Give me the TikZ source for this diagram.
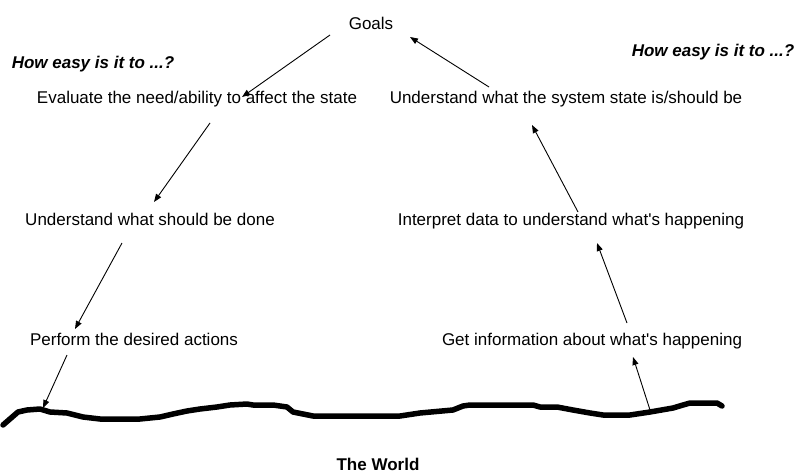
\documentclass[tikz,border=0pt]{standalone}
\usepackage{fontspec}
\setmainfont{Liberation Sans}[Ligatures=TeXOff]
\usetikzlibrary{arrows.meta}
\begin{document}
\begin{tikzpicture}[x=1pt,y=-1pt,
  lbl/.style={font=\fontsize{17}{20}\selectfont, inner sep=0pt, anchor=base},
  qlbl/.style={font=\fontsize{17}{20}\selectfont\bfseries\itshape, inner sep=0pt, anchor=base},
  wlbl/.style={font=\fontsize{17}{20}\selectfont\bfseries, inner sep=0pt, anchor=base},
  arr/.style={-{Triangle[length=8pt,width=6pt]}, line width=0.9pt},
  world/.style={line width=5.5pt, line join=round, line cap=round}]
\useasboundingbox (0,0) rectangle (799,473);
% texts
\node[lbl]  (goals) at (371,30)  {Goals};
\node[qlbl] (qL)    at (93,69)   {How easy is it to ...?};
\node[qlbl] (qR)    at (713,57)  {How easy is it to ...?};
\node[lbl]  (eval)  at (197,104) {Evaluate the need/ability to affect the state};
\node[lbl]  (und)   at (150,225) {Understand what should be done};
\node[lbl]  (perf)  at (134,345) {Perform the desired actions};
\node[lbl]  (sys)   at (566,104) {Understand what the system state is/should be};
\node[lbl]  (interp) at (571,225) {Interpret data to understand what's happening};
\node[lbl]  (info)  at (592,345) {Get information about what's happening};
\node[wlbl] (tw)    at (378,470) {The World};
% the world
\draw[world] (3,425) -- (18,412) -- (27,410) -- (40,409) -- (50,412) -- (67,413)
  -- (83,417) -- (100,419) -- (140,419) -- (160,417) -- (173,414) -- (187,411)
  -- (200,409) -- (217,407) -- (230,405) -- (247,404) -- (253,405) -- (273,405)
  -- (287,407) -- (293,412) -- (313,416) -- (400,416) -- (420,413) -- (453,410)
  -- (463,406) -- (470,405) -- (533,405) -- (540,407) -- (557,407) -- (573,410)
  -- (590,413) -- (603,415) -- (630,415) -- (650,412) -- (673,408) -- (683,405)
  -- (690,403) -- (717,403) -- (722,406);
% arrow end points
\coordinate (a1s) at (330,35);  \coordinate (a1e) at (242,97);
\coordinate (a2s) at (210,123); \coordinate (a2e) at (154,202);
\coordinate (a3s) at (122,243); \coordinate (a3e) at (75,329);
\coordinate (a4s) at (67,355);  \coordinate (a4e) at (43,408);
\coordinate (a5s) at (650,410); \coordinate (a5e) at (633,357);
\coordinate (a6s) at (627,323); \coordinate (a6e) at (597,243);
\coordinate (a7s) at (578,212); \coordinate (a7e) at (532,125);
\coordinate (a8s) at (489,87);  \coordinate (a8e) at (410,37);
\draw[arr] (a1s) -- (a1e);
\draw[arr] (a2s) -- (a2e);
\draw[arr] (a3s) -- (a3e);
\draw[arr] (a4s) -- (a4e);
\draw[arr] (a5s) -- (a5e);
\draw[arr] (a6s) -- (a6e);
\draw[arr] (a7s) -- (a7e);
\draw[arr] (a8s) -- (a8e);
\end{tikzpicture}
\end{document}
